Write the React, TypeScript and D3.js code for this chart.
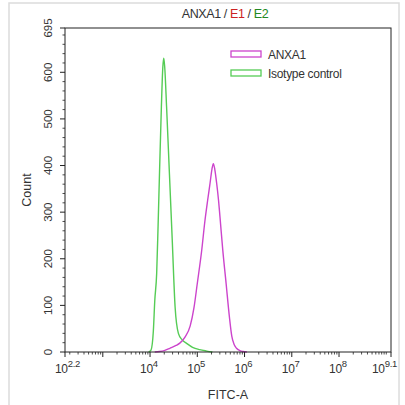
import React from "react";
import * as d3 from "d3";

// log10(FITC-A) vs Count
const anxa1LogX = [4.10, 4.20, 4.30, 4.42, 4.55, 4.63, 4.74, 4.85, 4.93, 5.0, 5.09, 5.16, 5.22, 5.27, 5.31, 5.34, 5.37, 5.41, 5.45, 5.48, 5.54, 5.61, 5.68, 5.73, 5.78, 5.83, 5.90, 5.97, 6.05];
const anxa1Count = [0, 1, 3, 8, 14, 19, 32, 56, 95, 147, 215, 280, 326, 362, 392, 404, 392, 362, 325, 290, 218, 147, 75, 34, 16, 8, 3, 1, 0];
const isoLogX = [3.97, 4.02, 4.07, 4.10, 4.14, 4.17, 4.20, 4.24, 4.27, 4.29, 4.31, 4.35, 4.41, 4.47, 4.53, 4.60, 4.68, 4.78, 4.90, 5.05, 5.20, 5.32];
const isoCount = [0, 4, 45, 110, 168, 270, 383, 526, 610, 630, 612, 526, 383, 240, 97, 40, 26, 18, 10, 5, 2, 0];

const yTicks = [0, 100, 200, 300, 400, 500, 600, 695];
const xTickExps = [2.2, 3, 4, 5, 6, 7, 8, 9.1];
const xTickLabels = ["2.2", "", "4", "5", "6", "7", "8", "9.1"];

const seriesNames = ["ANXA1", "Isotype control"];
const seriesColors = ["#cc44cc", "#55cc55"];

export default function App() {
  const W = 405, H = 405;
  const left = 65, right = 391, top = 28, bottom = 352;
  const x = d3.scaleLinear().domain([2.2, 9.1]).range([left, right]);
  const y = d3.scaleLinear().domain([0, 695]).range([bottom, top]);
  const line = d3
    .line<[number, number]>()
    .x((d) => x(d[0]))
    .y((d) => y(d[1]))
    .curve(d3.curveMonotoneX);

  const anxa1 = anxa1LogX.map((v, i) => [v, anxa1Count[i]] as [number, number]);
  const iso = isoLogX.map((v, i) => [v, isoCount[i]] as [number, number]);

  // minor x ticks
  const minorX: number[] = [];
  for (let dec = 2; dec <= 9; dec++) {
    for (let k = 1; k <= 9; k++) {
      const v = dec + Math.log10(k);
      if (v > 2.2 && v < 9.1 && !xTickExps.includes(v)) minorX.push(v);
    }
  }
  const minorY: number[] = [];
  for (let v = 20; v < 695; v += 20) if (v % 100 !== 0) minorY.push(v);

  const font = "'Liberation Sans', Arial, sans-serif";
  const axisColor = "#222";

  return (
    <svg width={W} height={H} style={{ position: "absolute", left: 0, top: 0, background: "#fff" }} fontFamily={font}>
      <rect x={9} y={3} width={390} height={410} fill="#fff" stroke="#dcdcdc" strokeWidth={1.5} />
      {/* title */}
      <text x={225} y={18} textAnchor="middle" fontSize={12.5} fill="#333" letterSpacing={-0.4}>
        <tspan>ANXA1 / </tspan>
        <tspan fill="#cc2222">E1</tspan>
        <tspan> / </tspan>
        <tspan fill="#228822">E2</tspan>
      </text>
      {/* curves */}
      <path d={line(iso) ?? ""} fill="none" stroke={seriesColors[1]} strokeWidth={1.4} />
      <path d={line(anxa1) ?? ""} fill="none" stroke={seriesColors[0]} strokeWidth={1.4} />
      {/* frame */}
      <rect x={left} y={top} width={right - left} height={bottom - top} fill="none" stroke={axisColor} strokeWidth={1} />
      {/* x ticks */}
      {xTickExps.map((v) => (
        <line key={"xm" + v} x1={x(v)} x2={x(v)} y1={bottom} y2={bottom + 5} stroke={axisColor} />
      ))}
      {minorX.map((v) => (
        <line key={"xn" + v} x1={x(v)} x2={x(v)} y1={bottom} y2={bottom + 2.5} stroke={axisColor} strokeWidth={0.8} />
      ))}
      {xTickExps.map((v, i) =>
        xTickLabels[i] === "" ? null : (
          <text
            key={"xl" + v}
            x={i === 0 ? 55 : i === xTickExps.length - 1 ? 372 : x(v) - 10}
            y={373}
            fontSize={12}
            fill="#333"
            letterSpacing={-0.3}
          >
            10
            <tspan dy={-6} fontSize={9.5}>{xTickLabels[i]}</tspan>
          </text>
        )
      )}
      {/* y ticks */}
      {yTicks.map((v) => (
        <g key={"y" + v}>
          <line x1={left - 5} x2={left} y1={y(v)} y2={y(v)} stroke={axisColor} />
          <text transform={`translate(52,${y(v)}) rotate(-90)`} textAnchor="middle" fontSize={11.5} fill="#333">
            {v}
          </text>
        </g>
      ))}
      {minorY.map((v) => (
        <line key={"yn" + v} x1={left - 2.5} x2={left} y1={y(v)} y2={y(v)} stroke={axisColor} strokeWidth={0.8} />
      ))}
      {/* axis titles */}
      <text x={228} y={399} textAnchor="middle" fontSize={12.5} fill="#333">FITC-A</text>
      <text transform={`translate(31,190) rotate(-90)`} textAnchor="middle" fontSize={12.5} fill="#333">Count</text>
      {/* legend */}
      {seriesNames.map((n, i) => (
        <g key={n}>
          <rect x={231} y={51 + i * 19} width={30} height={6} fill="#fff" stroke={seriesColors[i]} strokeWidth={1.3} />
          <text x={268} y={58.5 + i * 19} fontSize={12} fill="#333" letterSpacing={-0.3}>{n}</text>
        </g>
      ))}
    </svg>
  );
}
